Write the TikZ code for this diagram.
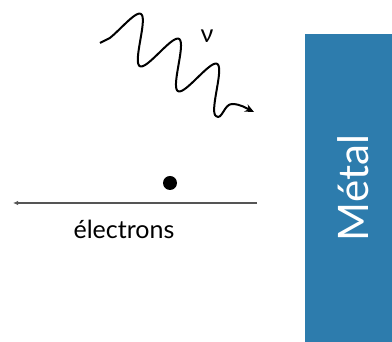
\documentclass[tikz,border=0pt]{standalone}
\usepackage{fontspec}
\setmainfont{Lato}
\usetikzlibrary{arrows.meta}
\definecolor{metalblue}{HTML}{2D7CAD}
\definecolor{beamgray}{HTML}{555555}

\begin{document}
\begin{tikzpicture}[x=1pt, y=1pt,
    every node/.style={inner sep=0pt},
    photon/.style={line width=2pt, line join=round, -{Stealth[length=9pt, width=8pt]}},
    beam/.style={line width=1.3pt, beamgray, -{Latex[length=5pt, width=4.5pt]}}]
  \useasboundingbox (0,0) rectangle (392,342);
  % metal slab
  \fill[metalblue] (305,0) rectangle (392,308);
  \node[rotate=90, text=white, font=\fontsize{42}{44}\selectfont] (metal) at (353.5,154) {Métal};
  % incoming photon
  \coordinate (photonstart) at (100,299);
  \draw[photon] (photonstart) -- plot[domain=6:136.8, samples=120, variable=\s]
      ({111.7 + 0.837*\s - 10.2*cos(7.8947*\s)}, {320.7 - 0.548*\s - 19.8*cos(7.8947*\s)})
    .. controls (222,221) and (224,238) .. (232,238)
    .. controls (240,238) and (246,234) .. (254,230);
  \node[font=\fontsize{25}{27}\selectfont, anchor=base] (nu) at (207,299) {ν};
  % electron and its path
  \node[circle, fill, minimum size=14pt] (electron) at (170,159) {};
  \coordinate (beamstart) at (257,139);
  \coordinate (beamend) at (13,139);
  \draw[beam] (beamstart) -- (beamend);
  \node[font=\fontsize{25}{27}\selectfont, anchor=base] (label) at (124,103) {électrons};
\end{tikzpicture}
\end{document}
